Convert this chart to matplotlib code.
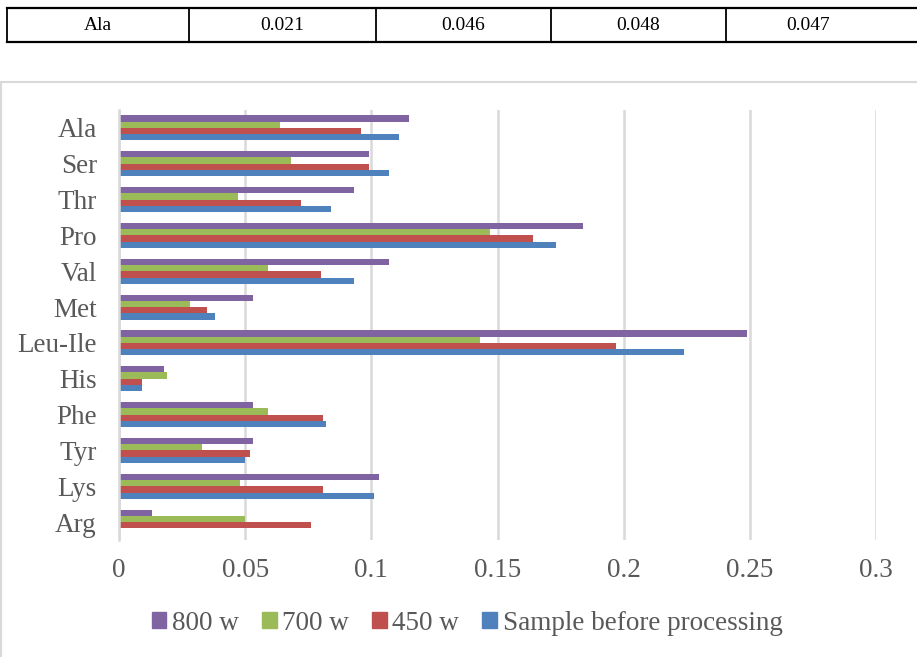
import numpy as np
import matplotlib.pyplot as plt
from matplotlib.patches import Rectangle, Patch

plt.rcParams['font.family'] = ['Liberation Serif', 'DejaVu Serif']

# amino acids, top to bottom
acids = ['Ala', 'Ser', 'Thr', 'Pro', 'Val', 'Met', 'Leu-Ile', 'His', 'Phe', 'Tyr', 'Lys', 'Arg']
w800 = [0.115, 0.099, 0.093, 0.184, 0.107, 0.053, 0.249, 0.018, 0.053, 0.053, 0.103, 0.013]
w700 = [0.064, 0.068, 0.047, 0.147, 0.059, 0.028, 0.143, 0.019, 0.059, 0.033, 0.048, 0.050]
w450 = [0.096, 0.099, 0.072, 0.164, 0.080, 0.035, 0.197, 0.009, 0.081, 0.052, 0.081, 0.076]
before = [0.111, 0.107, 0.084, 0.173, 0.093, 0.038, 0.224, 0.009, 0.082, 0.050, 0.101, 0.0]

series = ['800 w', '700 w', '450 w', 'Sample before processing']
colors = ['#8064A2', '#9BBB59', '#C0504D', '#4F81BD']

# the row of the table above the chart
table_row = ['Ala', '0.021', '0.046', '0.048', '0.047']

W, H = 917, 657
fig = plt.figure(figsize=(W / 100, H / 100), dpi=100)


def fx(px):
    return px / W


def fy(py):
    return 1 - py / H


# table strip at the top
col_edges = [7, 189, 376, 551, 726]
col_centers = [98, 282, 463, 638, 808]
for yy in (8, 42):
    fig.add_artist(plt.Line2D([fx(7), fx(920)], [fy(yy), fy(yy)], color='black', lw=1.6))
for x in col_edges:
    fig.add_artist(plt.Line2D([fx(x), fx(x)], [fy(8), fy(42)], color='black', lw=1.3))
for cx, txt in zip(col_centers, table_row):
    fig.text(fx(cx), fy(25), txt, ha='center', va='center', fontsize=14)

# chart border
fig.add_artist(Rectangle((fx(1), fy(660)), fx(930), 578 / H, transform=fig.transFigure,
                         fill=False, edgecolor='#D9D9D9', lw=1.5))

ax = fig.add_axes([fx(119), fy(540), fx(876) - fx(119), (540 - 110) / H])

y = np.arange(len(acids))
h = 0.175
for k, (vals, c) in enumerate(zip([w800, w700, w450, before], colors)):
    ax.barh(y + (k - 1.5) * h, vals, height=h, color=c, label=series[k])

ax.set_xlim(0, 0.3)
ax.set_ylim(len(acids) - 0.5, -0.5)
ax.set_yticks(y)
ax.set_yticklabels(acids)
ax.set_xticks([0, 0.05, 0.1, 0.15, 0.2, 0.25, 0.3])
ax.set_xticklabels(['0', '0.05', '0.1', '0.15', '0.2', '0.25', '0.3'])
ax.tick_params(axis='both', length=0, labelsize=19.5, colors='#595959')
ax.tick_params(axis='y', pad=16)
ax.tick_params(axis='x', pad=13)
ax.grid(axis='x', color='#D9D9D9', lw=1.8)
ax.set_axisbelow(True)
for s in ['top', 'right', 'bottom']:
    ax.spines[s].set_visible(False)
ax.spines['left'].set_color('#D9D9D9')
ax.spines['left'].set_linewidth(1.8)

handles = [Patch(color=c) for c in colors]
fig.legend(handles, series, loc='center', bbox_to_anchor=(fx(467), fy(623)), ncol=4,
           frameon=False, fontsize=19.5, handlelength=0.55, handleheight=0.55,
           handletextpad=0.2, columnspacing=0.85, labelcolor='#595959')

fig.savefig('out.png', dpi=100)
